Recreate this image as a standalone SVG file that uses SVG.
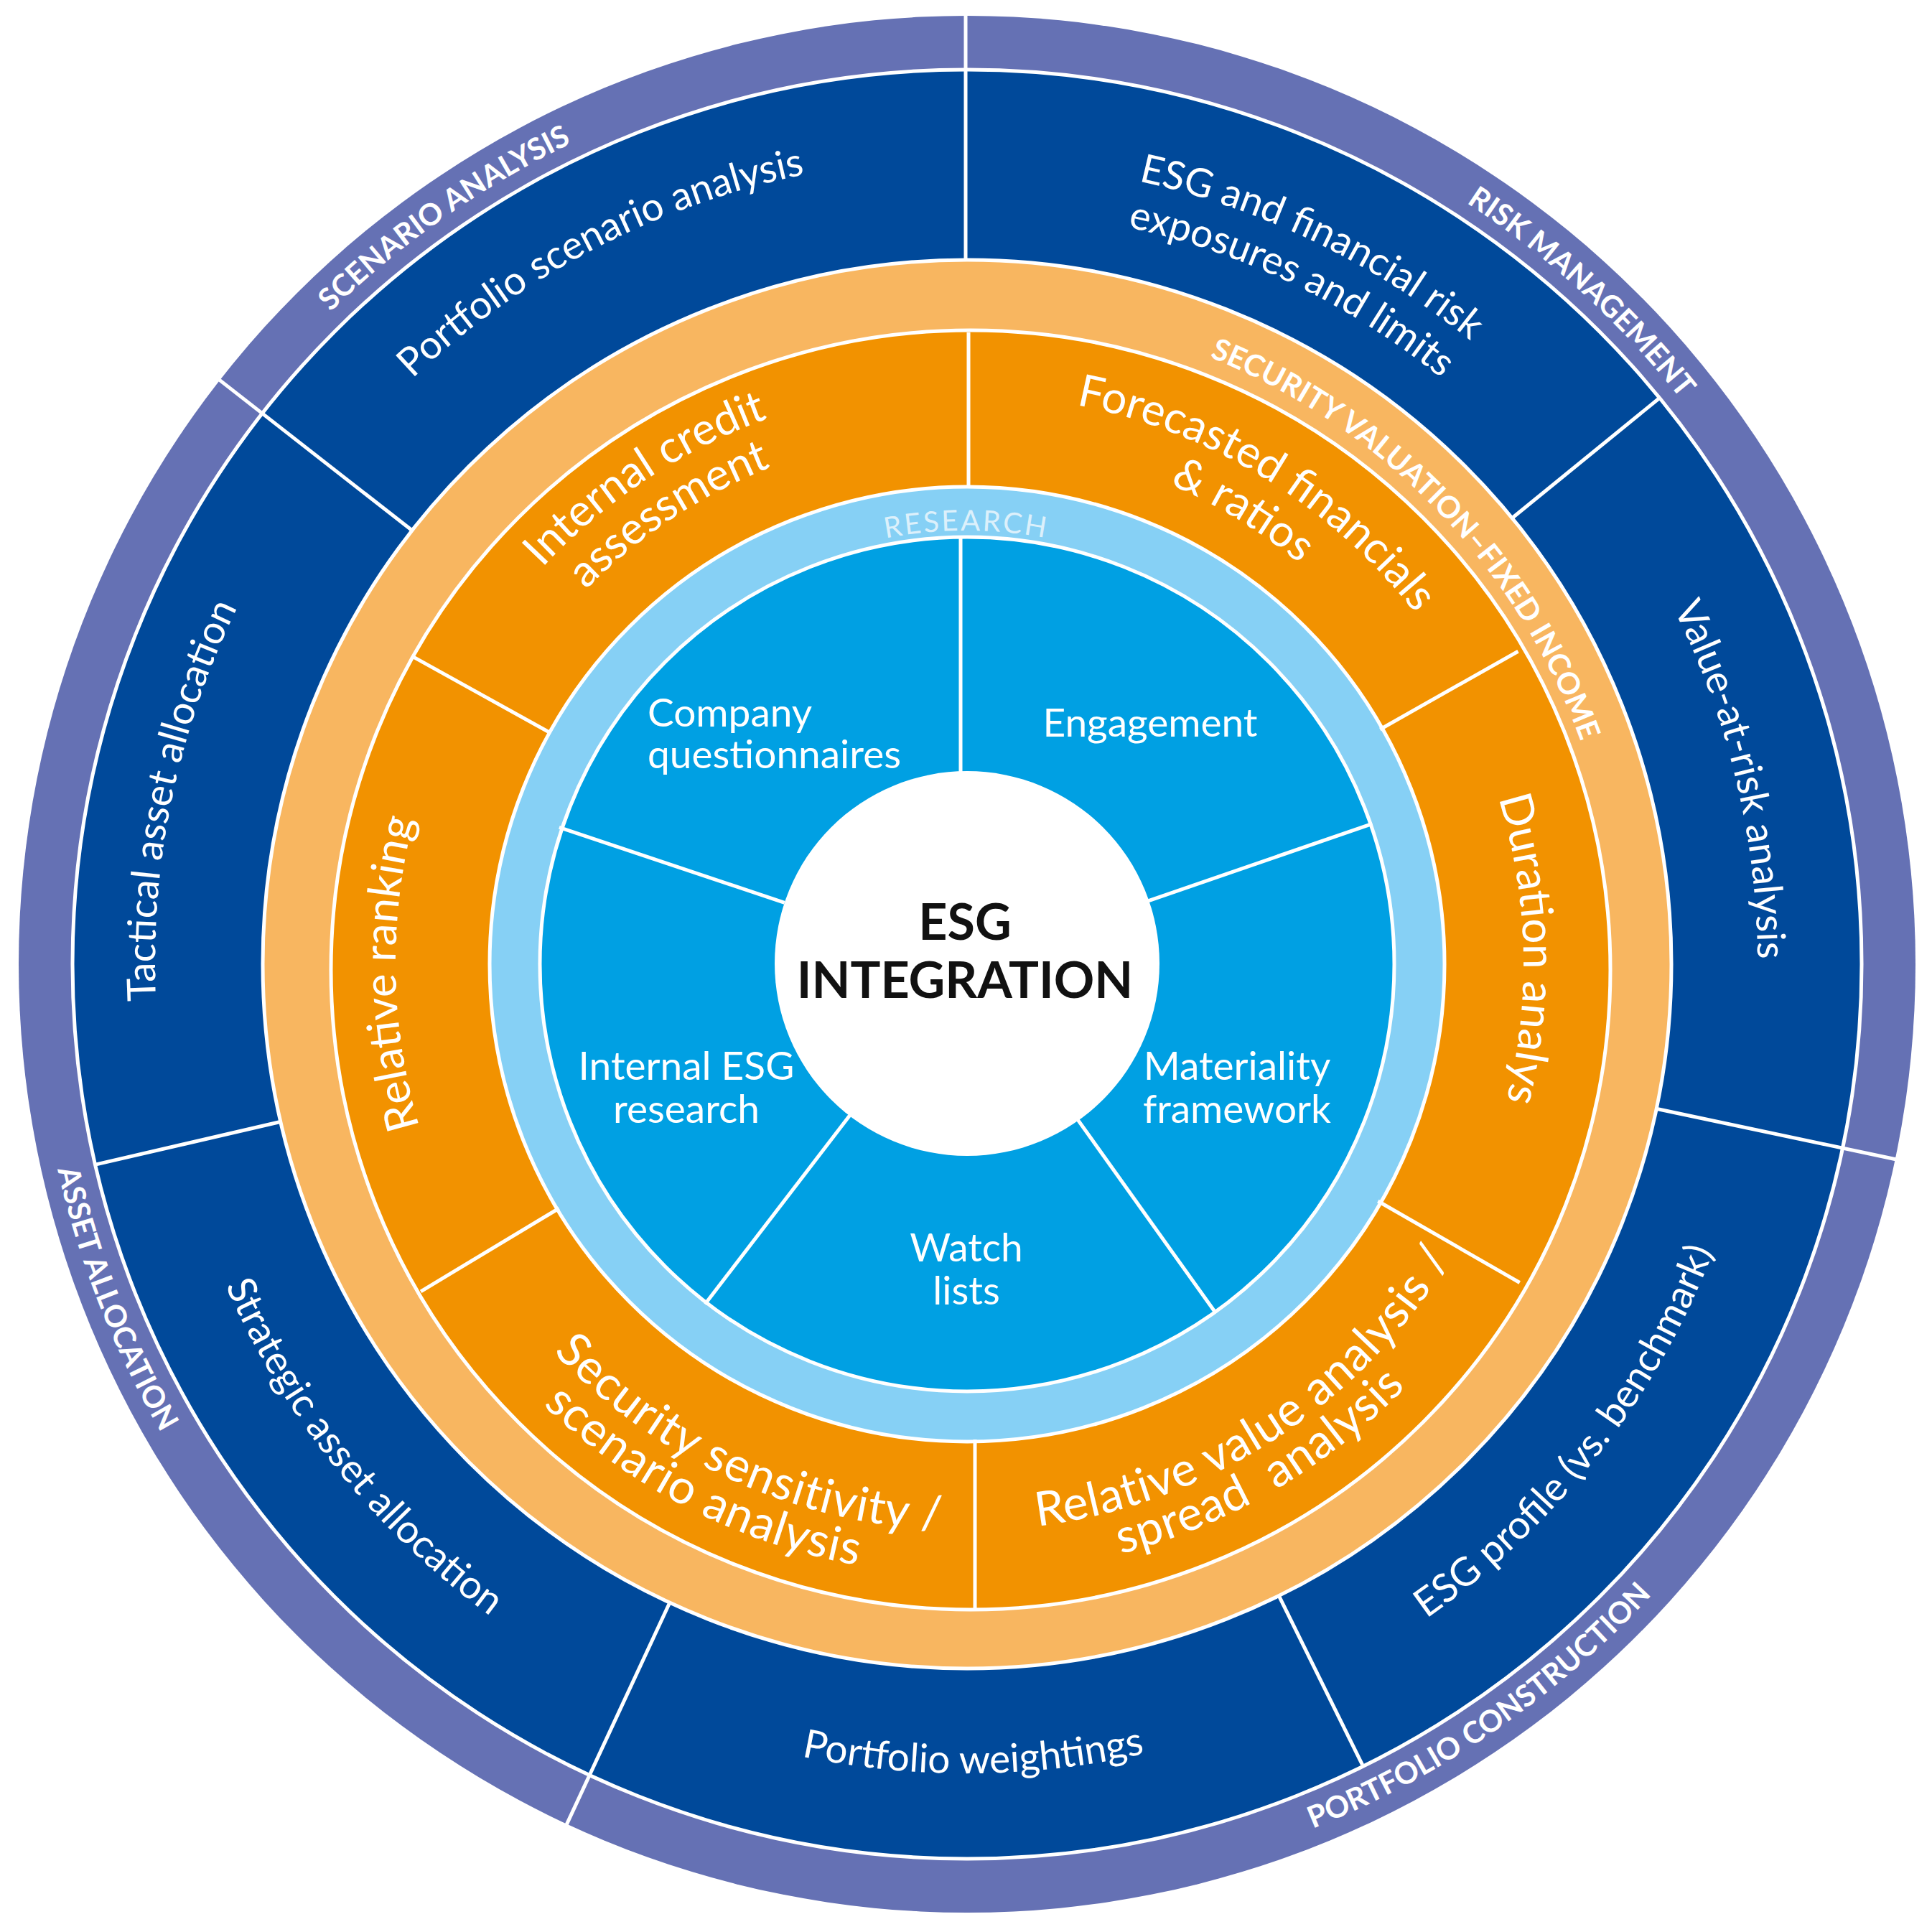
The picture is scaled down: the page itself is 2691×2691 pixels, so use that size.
<svg xmlns="http://www.w3.org/2000/svg" width="2691" height="2691" viewBox="0 0 2691 2691">
<style>
text{font-family:Lato,"Open Sans","Noto Sans",sans-serif;fill:#fff}
.db{font-size:55px}
.or{font-size:62px}
.orb{font-size:66px;letter-spacing:1px}
.pu{font-size:42px;font-weight:700}
.lo{font-size:42px;font-weight:700}
.mb{font-size:55px}
.ce{font-size:70px;font-weight:700;fill:#111}
.re{font-size:40px;fill:#dcf0fb;letter-spacing:3px}
.div{stroke:#fff;stroke-width:5;fill:none}
.ring{stroke:#fff;stroke-width:5}
</style>
<defs>
<path id="p1" d="M225.1,1293.1 A1122,1122 0 0 1 1948.8,395.7"/>
<path id="p2" d="M717.1,420.1 A1116,1116 0 0 1 2458.9,1258.3"/>
<path id="p3" d="M754.3,474.6 A1050,1050 0 0 1 2393.0,1263.3"/>
<path id="p4" d="M1659.0,285.4 A1102,1102 0 0 1 2104.6,2141.4"/>
<path id="p5" d="M594.3,2185.7 A1130,1130 0 0 1 991.2,269.1"/>
<path id="p6" d="M297.8,933.3 A1125,1125 0 0 0 1516.2,2454.1"/>
<path id="p7" d="M374.1,1914.5 A1128,1128 0 0 0 2327.8,1897.5"/>
<path id="p8" d="M1190.8,2446.2 A1115,1115 0 0 0 2379.8,924.3"/>
<path id="p9" d="M82.8,1452.5 A1268,1268 0 0 1 1881.9,192.8"/>
<path id="p10" d="M964.7,132.7 A1268,1268 0 0 1 2584.0,1616.4"/>
<path id="p11" d="M330.2,534.0 A1298,1298 0 0 0 1154.1,2625.7"/>
<path id="p12" d="M789.2,2514.5 A1298,1298 0 0 0 2639.8,1237.9"/>
<path id="p13" d="M1125.9,459.0 A910,910 0 0 1 2220.7,1592.8"/>
<path id="p14" d="M539.5,1391.3 A808,808 0 0 1 1706.5,618.9"/>
<path id="p15" d="M604.4,1387.4 A743,743 0 0 1 1677.5,677.1"/>
<path id="p16" d="M968.8,644.4 A793,793 0 0 1 2138.7,1364.1"/>
<path id="p17" d="M999.0,705.5 A725,725 0 0 1 2070.8,1359.7"/>
<path id="p18" d="M1716.3,660.0 A776,776 0 0 1 1751.5,2003.6"/>
<path id="p19" d="M960.6,2037.3 A795,795 0 0 1 936.5,660.5"/>
<path id="p20" d="M957.0,2029.6 A790,790 0 0 0 2136.0,1335.1" transform="rotate(-2.5 1346 1342)"/>
<path id="p21" d="M926.2,2081.1 A850,850 0 0 0 2196.0,1336.1"/>
<path id="p22" d="M559.5,1416.3 A790,790 0 0 0 1803.6,1986.0"/>
<path id="p23" d="M495.2,1386.6 A852,852 0 0 0 1810.0,2056.5"/>
<path id="p24" d="M823.8,1040.5 A603,603 0 0 1 1868.2,1040.5"/>
</defs>

<g id="rings">
<circle cx="1347" cy="1343" r="1321" fill="#6571b4"/>
<circle class="ring" cx="1347" cy="1343" r="1246" fill="#00499a"/>
<circle class="ring" cx="1347" cy="1343" r="981" fill="#f8b660"/>
<circle class="ring" cx="1352" cy="1351" r="891" fill="#f29200"/>
<circle class="ring" cx="1347" cy="1343" r="665" fill="#86d0f5"/>
<circle class="ring" cx="1347" cy="1343" r="595" fill="#00a0e3"/>
<circle cx="1347" cy="1342" r="268" fill="#fff"/>
</g>

<g id="connectors" class="div">
<line x1="1345" y1="362" x2="1345" y2="18"/>
<line x1="573.0" y1="738.0" x2="302.7" y2="526.9"/>
<line x1="2306.8" y1="1544.3" x2="2641.5" y2="1615.0"/>
<line x1="932.8" y1="2232.3" x2="788.5" y2="2542.9"/>
<line x1="2106.0" y1="721.7" x2="2310.7" y2="555.0"/>
<line x1="1780.9" y1="2221.9" x2="1897.6" y2="2458.1"/>
<line x1="389.3" y1="1562.8" x2="132.9" y2="1622.1"/>
<line x1="1349" y1="680" x2="1349" y2="463"/>
<line x1="1922.2" y1="1016.0" x2="2114.5" y2="907.2"/>
<line x1="1919.3" y1="1673.0" x2="2116.7" y2="1786.5"/>
<line x1="1358" y1="2005" x2="1358" y2="2240"/>
<line x1="778.6" y1="1683.0" x2="586.1" y2="1798.8"/>
<line x1="767.0" y1="1021.1" x2="573.7" y2="913.9"/>
<line x1="1338" y1="748" x2="1338" y2="1076"/>
<line x1="1598.5" y1="1255.1" x2="1911.4" y2="1147.3"/>
<line x1="1501.0" y1="1559.4" x2="1693.3" y2="1828.8"/>
<line x1="1183.5" y1="1553.8" x2="982.0" y2="1816.4"/>
<line x1="1092.8" y1="1257.3" x2="778.9" y2="1152.3"/>
</g>

<g id="scenario-analysis"><text class="pu"><textPath href="#p9" startOffset="50%" text-anchor="middle">SCENARIO ANALYSIS</textPath></text></g>
<g id="risk-management"><text class="pu"><textPath href="#p10" startOffset="50%" text-anchor="middle">RISK MANAGEMENT</textPath></text></g>
<g id="asset-allocation"><text class="pu"><textPath href="#p11" startOffset="50%" text-anchor="middle">ASSET ALLOCATION</textPath></text></g>
<g id="portfolio-construction"><text class="pu"><textPath href="#p12" startOffset="50%" text-anchor="middle">PORTFOLIO CONSTRUCTION</textPath></text></g>

<g id="portfolio-scenario-analysis"><text class="db"><textPath href="#p1" startOffset="50%" text-anchor="middle">Portfolio scenario analysis</textPath></text></g>
<g id="esg-financial-risk"><text class="db"><textPath href="#p2" startOffset="50%" text-anchor="middle">ESG and financial risk</textPath></text><text class="db"><textPath href="#p3" startOffset="50%" text-anchor="middle">exposures and limits</textPath></text></g>
<g id="value-at-risk"><text class="db"><textPath href="#p4" startOffset="50%" text-anchor="middle">Value-at-risk analysis</textPath></text></g>
<g id="esg-profile"><text class="db"><textPath href="#p8" startOffset="50%" text-anchor="middle">ESG profile (vs. benchmark)</textPath></text></g>
<g id="portfolio-weightings"><text class="db"><textPath href="#p7" startOffset="50%" text-anchor="middle">Portfolio weightings</textPath></text></g>
<g id="strategic-asset-allocation"><text class="db"><textPath href="#p6" startOffset="50%" text-anchor="middle">Strategic asset allocation</textPath></text></g>
<g id="tactical-asset-allocation"><text class="db"><textPath href="#p5" startOffset="50%" text-anchor="middle">Tactical asset allocation</textPath></text></g>

<g id="security-valuation"><text class="lo"><textPath href="#p13" startOffset="50%" text-anchor="middle">SECURITY VALUATION–FIXED INCOME</textPath></text></g>

<g id="internal-credit-assessment"><text class="or"><textPath href="#p14" startOffset="50%" text-anchor="middle">Internal credit</textPath></text><text class="or"><textPath href="#p15" startOffset="50%" text-anchor="middle">assessment</textPath></text></g>
<g id="forecasted-financials"><text class="or"><textPath href="#p16" startOffset="50%" text-anchor="middle">Forecasted financials</textPath></text><text class="or"><textPath href="#p17" startOffset="50%" text-anchor="middle">&amp; ratios</textPath></text></g>
<g id="duration-analysis"><text class="or"><textPath href="#p18" startOffset="50%" text-anchor="middle">Duration analys</textPath></text></g>
<g id="relative-value-analysis"><text class="orb"><textPath href="#p20" startOffset="50%" text-anchor="middle">Relative value analysis /</textPath></text><text class="orb" xml:space="preserve"><textPath href="#p21" startOffset="50%" text-anchor="middle">spread  analysis</textPath></text></g>
<g id="security-sensitivity"><text class="orb"><textPath href="#p22" startOffset="50%" text-anchor="middle">Security sensitivity /</textPath></text><text class="orb"><textPath href="#p23" startOffset="50%" text-anchor="middle">scenario analysis</textPath></text></g>
<g id="relative-ranking"><text class="or"><textPath href="#p19" startOffset="50%" text-anchor="middle">Relative ranking</textPath></text></g>

<g id="research"><text class="re"><textPath href="#p24" startOffset="50%" text-anchor="middle">RESEARCH</textPath></text></g>

<g id="company-questionnaires"><text class="mb" x="902" y="1012">Company</text><text class="mb" x="902" y="1070">questionnaires</text></g>
<g id="engagement"><text class="mb" x="1602" y="1026" text-anchor="middle">Engagement</text></g>
<g id="materiality-framework"><text class="mb" x="1723" y="1504" text-anchor="middle">Materiality</text><text class="mb" x="1723" y="1564" text-anchor="middle">framework</text></g>
<g id="watch-lists"><text class="mb" x="1346" y="1757" text-anchor="middle">Watch</text><text class="mb" x="1346" y="1817" text-anchor="middle">lists</text></g>
<g id="internal-esg-research"><text class="mb" x="956" y="1504" text-anchor="middle">Internal ESG</text><text class="mb" x="956" y="1564" text-anchor="middle">research</text></g>

<g id="esg-integration"><text class="ce" x="1344" y="1309" text-anchor="middle">ESG</text><text class="ce" x="1344" y="1390" text-anchor="middle">INTEGRATION</text></g>
</svg>
